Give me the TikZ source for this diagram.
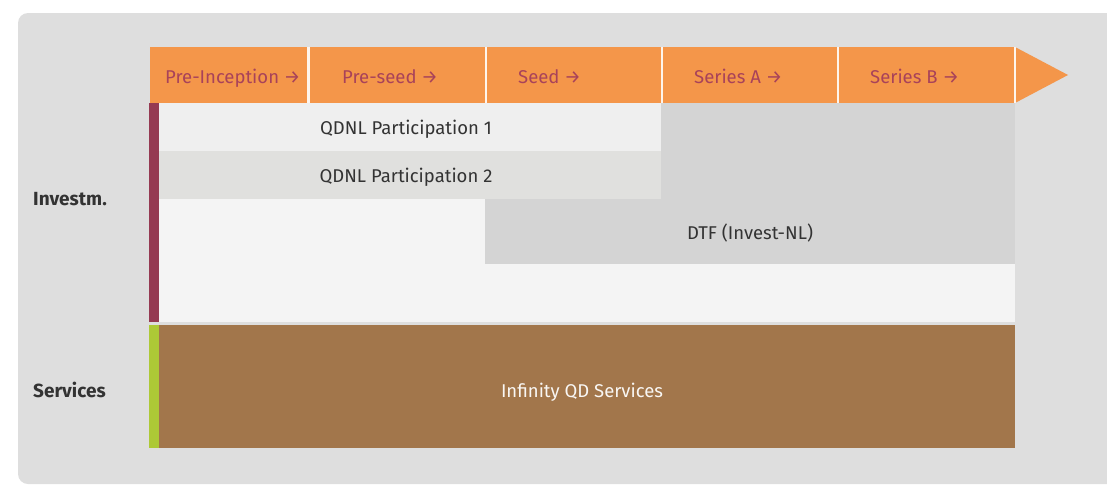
\documentclass[tikz,border=0pt]{standalone}
\usepackage{fontspec}
\setmainfont{Fira Sans}
\definecolor{bgc}{HTML}{DEDEDE}
\definecolor{hdr}{HTML}{F4964A}
\definecolor{hdrtxt}{HTML}{A8425A}
\definecolor{inv}{HTML}{953A52}
\definecolor{srv}{HTML}{ADC936}
\definecolor{brown}{HTML}{A2764B}
\definecolor{rowa}{HTML}{EFEFEF}
\definecolor{rowb}{HTML}{E0E0DE}
\definecolor{rowbg}{HTML}{F4F4F4}
\definecolor{dtf}{HTML}{D4D4D4}
\definecolor{txt}{HTML}{333333}
\tikzset{
  box/.style={rectangle, inner sep=0pt, outer sep=0pt, draw=none, anchor=north west},
  lbl/.style={inner sep=0pt, text height=13pt, text depth=0pt, text=txt, font=\fontsize{18.5}{20}\selectfont},
  stage/.style={lbl, anchor=west, text=hdrtxt},
  lane/.style={lbl, anchor=west, font=\bfseries\fontsize{19}{20}\selectfont},
}
\begin{document}
\begin{tikzpicture}[x=1pt,y=-1pt]
\useasboundingbox (0,0) rectangle (1107,485);
\fill[bgc, rounded corners=10pt] (18,13) rectangle (1130,484);
% header
\fill[hdr] (150,47) -- (1015,47) -- (1068,75) -- (1015,103) -- (150,103) -- cycle;
\foreach \x in {308.5,486,662,838,1015}{\fill[white!90!hdr] (\x-1.2,47) rectangle (\x+1.2,103);}
\node[stage] (s1) at (165,76.5) {Pre-Inception →};
\node[stage] (s2) at (342,76.5) {Pre-seed →};
\node[stage] (s3) at (518,76.5) {Seed →};
\node[stage] (s4) at (694,76.5) {Series A →};
\node[stage] (s5) at (870,76.5) {Series B →};
% investment lane
\node[box, fill=rowbg, minimum width=856pt, minimum height=219pt] (invbg) at (159,103) {};
\node[box, fill=dtf, minimum width=354pt, minimum height=161pt] (grey) at (661,103) {};
\node[box, fill=rowa, minimum width=502pt, minimum height=48pt] (q1) at (159,103) {};
\node[box, fill=rowb, minimum width=502pt, minimum height=48pt] (q2) at (159,151) {};
\node[box, fill=dtf, minimum width=530pt, minimum height=65pt] (dtfbox) at (485,199) {};
\node[box, fill=inv, minimum width=10pt, minimum height=219pt] (invbar) at (149,103) {};
\node[lbl] (q1t) at ([xshift=-4pt,yshift=-1pt]q1.center) {QDNL Participation 1};
\node[lbl] (q2t) at ([xshift=-4pt,yshift=-1pt]q2.center) {QDNL Participation 2};
\node[lbl] (dtft) at ([yshift=-1pt]dtfbox.center) {DTF (Invest-NL)};
% services lane
\node[box, fill=brown, minimum width=856pt, minimum height=123pt] (svc) at (159,325) {};
\node[box, fill=srv, minimum width=10pt, minimum height=123pt] (svcbar) at (149,325) {};
\node[lbl, text=white!94!brown] (svct) at ([xshift=-5pt,yshift=-4pt]svc.center) {Infinity QD Services};
\node[lane] (l1) at (33,199) {Investm.};
\node[lane] (l2) at (33,390.5) {Services};
\end{tikzpicture}
\end{document}
